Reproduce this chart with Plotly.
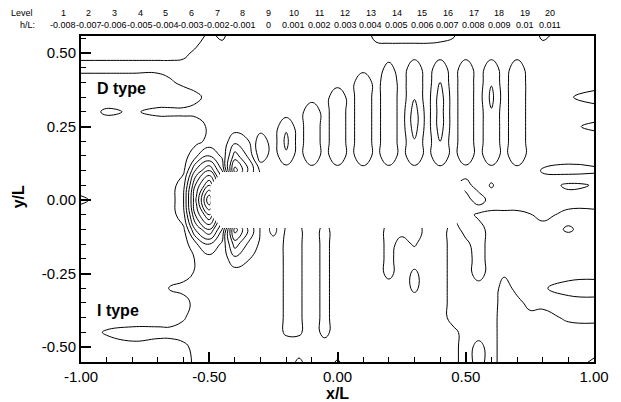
import plotly.graph_objects as go

# ---------------- data (wave elevation h/L, in units of 1e-3) ----------------
x_nodes = [-1.0, -0.9, -0.8, -0.7, -0.65, -0.6, -0.55, -0.5, -0.45, -0.4, -0.35, -0.3,
           -0.25, -0.2, -0.15, -0.1, -0.05, 0.0, 0.05, 0.1, 0.15, 0.2, 0.25, 0.3,
           0.35, 0.4, 0.45, 0.5, 0.55, 0.6, 0.65, 0.7, 0.75, 0.8, 0.9, 1.0]
y_nodes = [0.56, 0.5, 0.45, 0.4, 0.35, 0.3, 0.25, 0.2, 0.15, 0.1, 0.05, 0.0,
           -0.05, -0.1, -0.15, -0.2, -0.25, -0.3, -0.35, -0.4, -0.45, -0.5, -0.56]
N = None  # hull (no data)

h_p056 = [0.5, 0.5, 0.5, 0.5, 0.5, 0.5, 0.6, 1.2, 0.8, 1.5,
          1.5, 1.5, 1.5, 1.5, 1.5, 1.5, 1.5, 1.5, 1.5, 1.5,
          0.7, 0.6, 0.6, 0.6, 0.6, 0.7, 0.9, 1.5, 1.5, 1.5,
          1.5, 1.5, 1.5, 0.8, 1.5, 1.5]
h_p050 = [0.7, 0.7, 0.7, 0.7, 0.7, 0.8, 1.2, 1.5, 1.5, 1.5,
          1.5, 1.5, 1.5, 1.5, 1.5, 1.5, 1.5, 1.5, 1.5, 1.5,
          1.5, 1.5, 1.5, 1.5, 1.5, 1.5, 1.5, 1.5, 1.5, 1.5,
          1.5, 1.5, 1.5, 1.5, 1.5, 1.5]
h_p045 = [1.3, 1.3, 1.3, 1.3, 1.3, 1.3, 1.4, 1.5, 1.5, 1.5,
          1.5, 1.5, 1.5, 1.5, 1.5, 1.5, 1.5, 1.5, 1.5, 1.5,
          1.5, 2.3, 1.5, 2.6, 1.5, 2.6, 1.5, 2.6, 1.5, 2.6,
          1.5, 2.6, 1.5, 1.5, 1.5, 1.5]
h_p040 = [0.5, 0.5, 0.5, 0.5, 0.9, 1.2, 1.4, 1.5, 1.5, 1.5,
          1.5, 1.5, 1.5, 1.5, 1.5, 1.5, 1.5, 1.5, 1.5, 3.0,
          1.5, 2.9, 1.5, 2.9, 1.5, 3.0, 1.5, 2.8, 1.5, 2.9,
          1.5, 3.0, 1.5, 1.5, 1.5, 1.5]
h_p035 = [0.5, 0.5, 0.5, 0.5, 0.5, 0.5, 0.8, 1.3, 1.5, 1.5,
          1.5, 1.5, 1.5, 1.5, 1.5, 1.5, 1.5, 2.9, 1.5, 3.0,
          1.5, 2.9, 1.5, 2.9, 1.5, 3.5, 1.5, 2.8, 1.5, 3.3,
          1.5, 3.0, 1.5, 1.5, 1.9, 2.4]
h_p030 = [0.5, 1.15, 0.9, 1.2, 1.2, 1.2, 1.3, 1.4, 1.5, 1.5,
          1.5, 1.5, 1.5, 1.5, 1.5, 2.9, 1.5, 2.9, 1.5, 3.0,
          1.5, 2.9, 1.5, 3.5, 1.5, 3.5, 1.5, 2.8, 1.5, 2.9,
          1.5, 3.0, 1.5, 1.5, 1.5, 1.5]
h_p025 = [0.5, 0.5, 0.5, 0.5, 0.5, 0.5, 0.5, 1.2, 1.5, 1.5,
          1.5, 1.5, 1.5, 2.8, 1.5, 2.9, 1.5, 2.9, 1.5, 3.0,
          1.5, 2.9, 1.5, 3.5, 1.5, 3.5, 1.5, 2.8, 1.5, 2.9,
          1.5, 3.0, 1.5, 1.5, 1.8, 2.2]
h_p020 = [0.5, 0.5, 0.5, 0.5, 0.5, 0.5, 0.7, 1.3, 1.6, 0.3,
          0.9, 2.6, 1.5, 3.3, 1.5, 2.9, 1.5, 2.9, 1.5, 3.0,
          1.5, 2.9, 1.5, 2.9, 1.5, 3.0, 1.5, 2.8, 1.5, 2.9,
          1.5, 3.0, 1.5, 1.5, 1.5, 1.5]
h_p015 = [0.5, 0.5, 0.5, 0.5, 0.5, 0.5, 1.9, 3.0, 1.8, -1.5,
          0.1, 2.6, 1.5, 2.8, 1.5, 2.9, 1.5, 2.9, 1.5, 3.0,
          1.5, 2.9, 1.5, 2.9, 1.5, 3.0, 1.5, 2.8, 1.5, 2.9,
          1.5, 3.0, 1.5, 1.5, 1.5, 1.5]
h_p010 = [0.5, 0.5, 0.5, 0.5, 0.5, 0.8, 4.3, 6.0, 3.0, -3.5,
          -1.0, 1.2, 1.5, 1.5, 1.5, 1.5, 1.5, 1.5, 1.5, 1.5,
          1.5, 1.5, 1.5, 1.5, 1.5, 1.5, 1.5, 1.5, 1.5, 1.5,
          1.5, 1.5, 1.5, 2.1, 2.4, 2.2]
h_p005 = [0.5, 0.5, 0.5, 0.5, 0.5, 1.7, 6.4, 9.0,
          N, N, N, N, N, N, N, N, N, N, N, N, N, N, N, N, N, N, N,
          2.4, 1.5, 2.1, 1.5, 1.5, 1.5, 1.5, 0.8, 1.05]
h_000 = [1.2, 0.5, 0.5, 0.5, 0.5, 2.0, 7.2, 12.0,
         N, N, N, N, N, N, N, N, N, N, N, N, N, N, N, N, N, N, N,
         1.5, 2.6, 1.5, 1.5, 1.5, 1.5, 1.5, 1.5, 1.5]
h_m005 = [0.5, 0.5, 0.5, 0.5, 0.5, 1.7, 6.4, 9.0,
          N, N, N, N, N, N, N, N, N, N, N, N, N, N, N, N, N, N, N,
          1.4, 0.8, 0.8, 0.8, 0.8, 0.95, 1.3, 0.7, 0.7]
h_m010 = [0.5, 0.5, 0.5, 0.5, 0.5, 0.8, 4.3, 6.0, 3.0, -3.5,
          -1.0, 1.1, 2.4, 0.85, 0.85, 1.5, 0.7, 1.5, 1.5, 1.5,
          1.5, 0.7, 0.7, 0.7, 1.2, 1.5, 0.6, 1.3, 1.4, 0.6,
          0.6, 0.6, 0.6, 0.6, 1.1, 0.6]
h_m015 = [0.5, 0.5, 0.5, 0.5, 0.5, 0.5, 1.9, 3.0, 1.8, -1.5,
          0.1, 1.2, 1.5, 0.85, 0.85, 1.5, 0.7, 1.5, 1.5, 1.5,
          1.5, 0.7, 1.3, 0.9, 1.5, 1.5, 0.6, 0.8, 1.4, 0.6,
          0.6, 0.6, 0.6, 0.6, 0.6, 0.6]
h_m020 = [0.5, 0.5, 0.5, 0.5, 0.5, 0.5, 1.1, 1.6, 1.6, 0.3,
          0.9, 1.5, 1.5, 0.85, 0.85, 1.5, 0.7, 1.5, 1.5, 1.5,
          1.5, 0.7, 1.5, 1.5, 1.5, 1.5, 0.6, 0.6, 1.4, 0.6,
          0.6, 0.6, 0.6, 0.6, 0.6, 0.6]
h_m025 = [0.5, 0.5, 0.5, 0.5, 0.5, 0.5, 1.2, 1.5, 1.5, 1.5,
          1.5, 1.5, 1.5, 0.85, 0.85, 1.5, 0.7, 1.5, 1.5, 1.5,
          1.5, 0.7, 1.5, 0.8, 1.5, 1.5, 0.6, 0.6, 1.4, 0.6,
          0.9, 0.6, 0.6, 0.6, 0.6, 0.6]
h_m030 = [0.5, 0.5, 0.5, 0.5, 1.1, 1.4, 1.5, 1.5, 1.5, 1.5,
          1.5, 1.5, 1.5, 0.85, 0.85, 1.5, 0.7, 1.5, 1.5, 1.5,
          1.5, 1.5, 1.5, 0.8, 1.5, 1.5, 0.6, 0.6, 0.6, 0.6,
          1.3, 0.8, 0.6, 0.9, 1.4, 1.6]
h_m035 = [0.5, 0.5, 0.5, 0.5, 0.5, 0.5, 1.5, 1.5, 1.5, 1.5,
          1.5, 1.5, 1.5, 0.85, 0.85, 1.5, 0.7, 1.5, 1.5, 1.5,
          1.5, 1.5, 1.5, 1.5, 1.5, 1.5, 0.6, 0.6, 0.6, 0.6,
          1.4, 1.2, 0.8, 0.7, 0.6, 0.6]
h_m040 = [0.5, 0.5, 0.5, 0.5, 0.5, 0.9, 1.5, 1.5, 1.5, 1.5,
          1.5, 1.5, 1.5, 0.85, 0.85, 1.5, 0.7, 1.5, 1.5, 1.5,
          1.5, 1.5, 1.5, 1.5, 1.5, 1.5, 0.6, 0.6, 0.6, 0.6,
          1.5, 1.3, 1.2, 1.4, 0.8, 0.7]
h_m045 = [0.5, 1.1, 1.3, 1.3, 1.3, 1.4, 1.5, 1.5, 1.5, 1.5,
          1.5, 1.5, 1.5, 0.85, 0.85, 1.5, 0.7, 1.5, 1.5, 1.5,
          1.5, 1.5, 1.5, 1.5, 1.5, 1.5, 1.3, 0.6, 0.6, 0.6,
          1.5, 1.5, 1.5, 1.5, 1.5, 1.5]
h_m050 = [0.5, 0.6, 0.8, 0.6, 0.6, 0.8, 1.3, 1.5, 1.5, 1.5,
          1.5, 1.5, 1.5, 1.5, 1.5, 1.5, 1.5, 1.5, 1.5, 1.5,
          1.5, 1.5, 1.5, 1.5, 1.5, 1.5, 1.3, 0.6, 1.3, 0.6,
          1.5, 1.5, 1.5, 1.5, 1.5, 1.5]
h_m056 = [0.5, 0.5, 0.5, 0.5, 0.5, 0.5, 1.3, 1.5, 1.5, 1.5,
          1.5, 1.5, 1.5, 1.5, 0.7, 1.5, 1.5, 0.8, 1.5, 1.5,
          1.5, 1.5, 1.5, 1.5, 1.5, 1.5, 1.3, 0.6, 1.3, 0.6,
          1.5, 1.5, 1.5, 1.5, 1.5, 2.3]

level_ids = [1, 2, 3, 4, 5, 6, 7, 8, 9, 10, 11, 12, 13, 14, 15, 16, 17, 18, 19, 20]
level_vals = ["-0.008", "-0.007", "-0.006", "-0.005", "-0.004", "-0.003", "-0.002",
              "-0.001", "0", "0.001", "0.002", "0.003", "0.004", "0.005", "0.006",
              "0.007", "0.008", "0.009", "0.01", "0.011"]
x_tick_vals = [-1.0, -0.5, 0.0, 0.5, 1.0]
x_tick_text = ["-1.00", "-0.50", "0.00", "0.50", "1.00"]
y_tick_vals = [-0.5, -0.25, 0.0, 0.25, 0.5]
y_tick_text = ["-0.50", "-0.25", "0.00", "0.25", "0.50"]

z_rows = [h_p056, h_p050, h_p045, h_p040, h_p035, h_p030, h_p025, h_p020, h_p015,
          h_p010, h_p005, h_000, h_m005, h_m010, h_m015, h_m020, h_m025, h_m030,
          h_m035, h_m040, h_m045, h_m050, h_m056]

# ---------------- figure ----------------
FONT = "Liberation Sans, Arial, Helvetica, sans-serif"
W, H = 621, 402
L_M, R_M, T_M, B_M = 81, 24, 36, 40
PW, PH = W - L_M - R_M, H - T_M - B_M

fig = go.Figure()
fig.add_trace(go.Contour(
    x=x_nodes, y=y_nodes, z=z_rows,
    contours=dict(start=-8, end=11, size=1, coloring="lines"),
    colorscale=[[0, "black"], [1, "black"]],
    line=dict(width=1, smoothing=1.3),
    showscale=False, connectgaps=False, hoverinfo="skip",
))

def px_x(px):
    return (px - L_M) / PW

def px_y(py):
    return (H - B_M - py) / PH

ann = []
ann.append(dict(text="Level", x=px_x(9), y=px_y(13), xanchor="left", yanchor="middle"))
ann.append(dict(text="h/L:", x=px_x(37), y=px_y(25), xanchor="right", yanchor="middle"))
for i, (lid, lv) in enumerate(zip(level_ids, level_vals)):
    cx = 63 + i * 25.8
    ann.append(dict(text=str(lid), x=px_x(cx), y=px_y(13), xanchor="center", yanchor="middle"))
    ann.append(dict(text=lv, x=px_x(cx), y=px_y(25), xanchor="center", yanchor="middle"))
for a in ann:
    a.update(xref="paper", yref="paper", showarrow=False,
             font=dict(family=FONT, size=9, color="black"))

ann.append(dict(text="<b>D type</b>", x=-0.945, y=0.38, xref="x", yref="y",
                xanchor="left", yanchor="middle", showarrow=False,
                font=dict(family=FONT, size=16, color="black")))
ann.append(dict(text="<b>I type</b>", x=-0.945, y=-0.375, xref="x", yref="y",
                xanchor="left", yanchor="middle", showarrow=False,
                font=dict(family=FONT, size=16, color="black")))
ann.append(dict(text="<b>x/L</b>", x=0.5, y=px_y(393), xref="paper", yref="paper",
                xanchor="center", yanchor="middle", showarrow=False,
                font=dict(family=FONT, size=16, color="black")))
ann.append(dict(text="<b>y/L</b>", x=px_x(18), y=px_y(197), xref="paper", yref="paper",
                xanchor="center", yanchor="middle", showarrow=False, textangle=-90,
                font=dict(family=FONT, size=16, color="black")))

axis_common = dict(showgrid=False, zeroline=False, showline=True, linewidth=2,
                   linecolor="black", mirror=True, ticks="inside", ticklen=10,
                   tickwidth=2, tickcolor="black",
                   tickfont=dict(family=FONT, size=15, color="black"))

fig.update_layout(
    width=W, height=H,
    margin=dict(l=L_M, r=R_M, t=T_M, b=B_M),
    paper_bgcolor="white", plot_bgcolor="white",
    showlegend=False,
    annotations=ann,
    xaxis=dict(range=[-1.0, 1.0], tickmode="array", tickvals=x_tick_vals,
               ticktext=x_tick_text,
               minor=dict(tickmode="linear", tick0=0, dtick=0.1, ticks="inside",
                          ticklen=5, tickwidth=1, tickcolor="black", showgrid=False),
               **axis_common),
    yaxis=dict(range=[-0.551, 0.558], tickmode="array", tickvals=y_tick_vals,
               ticktext=y_tick_text,
               minor=dict(tickmode="linear", tick0=0, dtick=0.05, ticks="inside",
                          ticklen=5, tickwidth=1, tickcolor="black", showgrid=False),
               **axis_common),
)

fig.write_html("out.html",
               config={"displayModeBar": False},
               post_script="document.body.style.margin='0';document.body.style.overflow='hidden';")
